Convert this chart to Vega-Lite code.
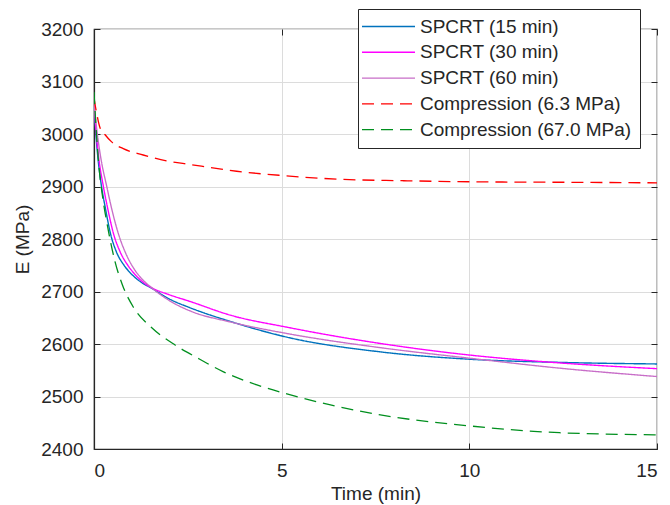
{
  "$schema": "https://vega.github.io/schema/vega-lite/v6.json",
  "width": 563,
  "height": 420,
  "autosize": {"type": "none"},
  "padding": {"left": 94, "top": 29, "right": 13, "bottom": 56},
  "background": "white",
  "config": {
    "view": {"stroke": "#262626", "strokeWidth": 1.2},
    "font": "Liberation Sans"
  },
  "data": {
    "values": [
      {"series": "SPCRT (15 min)", "t": 0, "E": 3055},
      {"series": "SPCRT (15 min)", "t": 0.05, "E": 3000},
      {"series": "SPCRT (15 min)", "t": 0.1, "E": 2958},
      {"series": "SPCRT (15 min)", "t": 0.2, "E": 2900},
      {"series": "SPCRT (15 min)", "t": 0.3, "E": 2860},
      {"series": "SPCRT (15 min)", "t": 0.44, "E": 2810},
      {"series": "SPCRT (15 min)", "t": 0.6, "E": 2775},
      {"series": "SPCRT (15 min)", "t": 0.8, "E": 2750},
      {"series": "SPCRT (15 min)", "t": 1.0, "E": 2733},
      {"series": "SPCRT (15 min)", "t": 1.25, "E": 2718},
      {"series": "SPCRT (15 min)", "t": 1.54, "E": 2706},
      {"series": "SPCRT (15 min)", "t": 2.0, "E": 2686},
      {"series": "SPCRT (15 min)", "t": 2.56, "E": 2669},
      {"series": "SPCRT (15 min)", "t": 3.63, "E": 2643},
      {"series": "SPCRT (15 min)", "t": 5.14, "E": 2613},
      {"series": "SPCRT (15 min)", "t": 7.63, "E": 2585},
      {"series": "SPCRT (15 min)", "t": 10, "E": 2571},
      {"series": "SPCRT (15 min)", "t": 12.4, "E": 2565},
      {"series": "SPCRT (15 min)", "t": 15, "E": 2562},
      {"series": "SPCRT (30 min)", "t": 0, "E": 3058},
      {"series": "SPCRT (30 min)", "t": 0.06, "E": 3000},
      {"series": "SPCRT (30 min)", "t": 0.12, "E": 2958},
      {"series": "SPCRT (30 min)", "t": 0.25, "E": 2900},
      {"series": "SPCRT (30 min)", "t": 0.36, "E": 2860},
      {"series": "SPCRT (30 min)", "t": 0.52, "E": 2810},
      {"series": "SPCRT (30 min)", "t": 0.7, "E": 2775},
      {"series": "SPCRT (30 min)", "t": 0.9, "E": 2750},
      {"series": "SPCRT (30 min)", "t": 1.1, "E": 2732},
      {"series": "SPCRT (30 min)", "t": 1.3, "E": 2718},
      {"series": "SPCRT (30 min)", "t": 1.54, "E": 2707},
      {"series": "SPCRT (30 min)", "t": 2.0, "E": 2694},
      {"series": "SPCRT (30 min)", "t": 2.56, "E": 2681},
      {"series": "SPCRT (30 min)", "t": 3.63, "E": 2655},
      {"series": "SPCRT (30 min)", "t": 5.14, "E": 2632},
      {"series": "SPCRT (30 min)", "t": 7.63, "E": 2601},
      {"series": "SPCRT (30 min)", "t": 10, "E": 2579},
      {"series": "SPCRT (30 min)", "t": 12.4, "E": 2564},
      {"series": "SPCRT (30 min)", "t": 15, "E": 2553},
      {"series": "SPCRT (60 min)", "t": 0, "E": 3058},
      {"series": "SPCRT (60 min)", "t": 0.08, "E": 3005},
      {"series": "SPCRT (60 min)", "t": 0.18, "E": 2955},
      {"series": "SPCRT (60 min)", "t": 0.34, "E": 2900},
      {"series": "SPCRT (60 min)", "t": 0.48, "E": 2855},
      {"series": "SPCRT (60 min)", "t": 0.65, "E": 2810},
      {"series": "SPCRT (60 min)", "t": 0.85, "E": 2772},
      {"series": "SPCRT (60 min)", "t": 1.05, "E": 2745},
      {"series": "SPCRT (60 min)", "t": 1.25, "E": 2726},
      {"series": "SPCRT (60 min)", "t": 1.54, "E": 2707},
      {"series": "SPCRT (60 min)", "t": 2.0, "E": 2683},
      {"series": "SPCRT (60 min)", "t": 2.56, "E": 2663},
      {"series": "SPCRT (60 min)", "t": 3.63, "E": 2642},
      {"series": "SPCRT (60 min)", "t": 5.14, "E": 2620},
      {"series": "SPCRT (60 min)", "t": 7.63, "E": 2593},
      {"series": "SPCRT (60 min)", "t": 10, "E": 2573},
      {"series": "SPCRT (60 min)", "t": 12.4, "E": 2554},
      {"series": "SPCRT (60 min)", "t": 15, "E": 2538},
      {"series": "Compression (6.3 MPa)", "t": 0, "E": 3068},
      {"series": "Compression (6.3 MPa)", "t": 0.07, "E": 3040},
      {"series": "Compression (6.3 MPa)", "t": 0.16, "E": 3012},
      {"series": "Compression (6.3 MPa)", "t": 0.29, "E": 2999},
      {"series": "Compression (6.3 MPa)", "t": 0.47, "E": 2985},
      {"series": "Compression (6.3 MPa)", "t": 0.78, "E": 2972},
      {"series": "Compression (6.3 MPa)", "t": 1.31, "E": 2960},
      {"series": "Compression (6.3 MPa)", "t": 1.93, "E": 2949},
      {"series": "Compression (6.3 MPa)", "t": 2.56, "E": 2942},
      {"series": "Compression (6.3 MPa)", "t": 3.8, "E": 2929},
      {"series": "Compression (6.3 MPa)", "t": 5, "E": 2921},
      {"series": "Compression (6.3 MPa)", "t": 6.47, "E": 2914},
      {"series": "Compression (6.3 MPa)", "t": 8.25, "E": 2911},
      {"series": "Compression (6.3 MPa)", "t": 10, "E": 2909},
      {"series": "Compression (6.3 MPa)", "t": 12.7, "E": 2908},
      {"series": "Compression (6.3 MPa)", "t": 15, "E": 2907},
      {"series": "Compression (67.0 MPa)", "t": 0, "E": 3080},
      {"series": "Compression (67.0 MPa)", "t": 0.07, "E": 2995},
      {"series": "Compression (67.0 MPa)", "t": 0.16, "E": 2918},
      {"series": "Compression (67.0 MPa)", "t": 0.23, "E": 2880},
      {"series": "Compression (67.0 MPa)", "t": 0.38, "E": 2817},
      {"series": "Compression (67.0 MPa)", "t": 0.56, "E": 2757},
      {"series": "Compression (67.0 MPa)", "t": 0.76, "E": 2712},
      {"series": "Compression (67.0 MPa)", "t": 1.05, "E": 2670},
      {"series": "Compression (67.0 MPa)", "t": 1.54, "E": 2631},
      {"series": "Compression (67.0 MPa)", "t": 2.16, "E": 2598},
      {"series": "Compression (67.0 MPa)", "t": 2.74, "E": 2574},
      {"series": "Compression (67.0 MPa)", "t": 3.45, "E": 2547},
      {"series": "Compression (67.0 MPa)", "t": 4.34, "E": 2522},
      {"series": "Compression (67.0 MPa)", "t": 5.14, "E": 2505},
      {"series": "Compression (67.0 MPa)", "t": 6.3, "E": 2484},
      {"series": "Compression (67.0 MPa)", "t": 7.63, "E": 2465},
      {"series": "Compression (67.0 MPa)", "t": 10, "E": 2444},
      {"series": "Compression (67.0 MPa)", "t": 12.4, "E": 2431},
      {"series": "Compression (67.0 MPa)", "t": 15, "E": 2427}
    ]
  },
  "layer": [
    {
      "mark": {"type": "line", "interpolate": "monotone", "clip": true},
      "encoding": {
        "x": {
          "field": "t",
          "type": "quantitative",
          "scale": {"domain": [0, 15], "nice": false},
          "axis": {
            "title": "Time (min)",
            "values": [0, 5, 10, 15],
            "format": "d",
            "grid": true,
            "gridColor": "#DCDCDC",
            "gridWidth": 1,
            "domainColor": "#262626",
            "domainWidth": 1.2,
            "tickColor": "#262626",
            "tickSize": -6,
            "labelPadding": 18,
            "labelFontSize": 19,
            "labelColor": "#262626",
            "labelFont": "Liberation Sans",
            "titleFont": "Liberation Sans",
            "titleFontSize": 19,
            "titleFontWeight": "normal",
            "titleColor": "#262626",
            "titlePadding": 4
          }
        },
        "y": {
          "field": "E",
          "type": "quantitative",
          "scale": {"domain": [2400, 3200], "nice": false, "zero": false},
          "axis": {
            "title": "E (MPa)",
            "values": [2400, 2500, 2600, 2700, 2800, 2900, 3000, 3100, 3200],
            "format": "d",
            "grid": true,
            "gridColor": "#DCDCDC",
            "gridWidth": 1,
            "domainColor": "#262626",
            "domainWidth": 1.2,
            "tickColor": "#262626",
            "tickSize": -6,
            "labelPadding": 17,
            "labelFontSize": 19,
            "labelColor": "#262626",
            "labelFont": "Liberation Sans",
            "titleFont": "Liberation Sans",
            "titleFontSize": 19,
            "titleFontWeight": "normal",
            "titleColor": "#262626",
            "titlePadding": 8
          }
        },
        "color": {
          "field": "series",
          "type": "nominal",
          "scale": {
            "domain": ["SPCRT (15 min)", "SPCRT (30 min)", "SPCRT (60 min)", "Compression (6.3 MPa)", "Compression (67.0 MPa)"],
            "range": ["#0072BD", "#FF00FF", "#C86EC8", "#FF0000", "#008F1E"]
          },
          "legend": {
            "title": null,
            "orient": "none",
            "legendX": 264,
            "legendY": -20,
            "symbolType": "M-5.3,0H5.3",
            "symbolSize": 100,
            "symbolOffset": 13,
            "symbolStrokeWidth": 1.5,
            "labelFontSize": 19,
            "labelFont": "Liberation Sans",
            "labelColor": "#262626",
            "labelOffset": 22,
            "labelLimit": 400,
            "padding": 8,
            "rowPadding": 5.8,
            "strokeColor": "#262626",
            "fillColor": "white"
          }
        },
        "strokeDash": {
          "field": "series",
          "type": "nominal",
          "scale": {
            "domain": ["SPCRT (15 min)", "SPCRT (30 min)", "SPCRT (60 min)", "Compression (6.3 MPa)", "Compression (67.0 MPa)"],
            "range": [[1, 0], [1, 0], [1, 0], [12, 7], [12, 7]]
          },
          "legend": {
            "title": null,
            "orient": "none",
            "legendX": 264,
            "legendY": -20,
            "symbolType": "M-5.3,0H5.3",
            "symbolSize": 100,
            "symbolOffset": 13,
            "symbolStrokeWidth": 1.5,
            "labelFontSize": 19,
            "labelFont": "Liberation Sans",
            "labelColor": "#262626",
            "labelOffset": 22,
            "labelLimit": 400,
            "padding": 8,
            "rowPadding": 5.8,
            "strokeColor": "#262626",
            "fillColor": "white"
          }
        },
        "strokeWidth": {
          "field": "series",
          "type": "nominal",
          "scale": {
            "domain": ["SPCRT (15 min)", "SPCRT (30 min)", "SPCRT (60 min)", "Compression (6.3 MPa)", "Compression (67.0 MPa)"],
            "range": [1.4, 1.3, 1.3, 1.8, 2.3]
          },
          "legend": null
        }
      }
    },
    {
      "mark": {"type": "line", "opacity": 0},
      "encoding": {
        "x": {
          "field": "t",
          "type": "quantitative",
          "axis": {
            "orient": "top",
            "values": [0, 5, 10, 15],
            "labels": false,
            "grid": false,
            "domain": false,
            "title": null,
            "tickColor": "#262626",
            "tickSize": -6
          }
        },
        "y": {
          "field": "E",
          "type": "quantitative",
          "axis": {
            "orient": "right",
            "values": [2400, 2500, 2600, 2700, 2800, 2900, 3000, 3100, 3200],
            "labels": false,
            "grid": false,
            "domain": false,
            "title": null,
            "tickColor": "#262626",
            "tickSize": -6
          }
        },
        "detail": {"field": "series", "type": "nominal"}
      }
    }
  ],
  "resolve": {"axis": {"x": "independent", "y": "independent"}}
}
